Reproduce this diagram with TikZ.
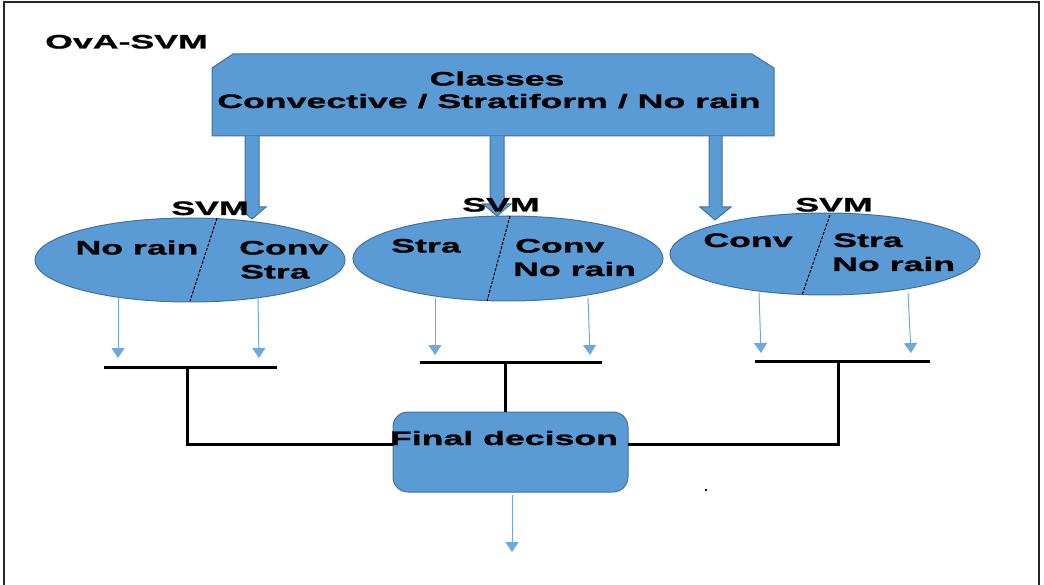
\documentclass[tikz,border=0pt]{standalone}
\usepackage{fontspec}
\setmainfont{Liberation Sans}[FakeStretch=1.83, BoldFeatures={FakeBold=1.2}]
\usetikzlibrary{arrows.meta,shapes.geometric}
\definecolor{boxblue}{HTML}{5B9BD5}
\definecolor{edgeblue}{HTML}{41719C}
\definecolor{thinblue}{HTML}{6FA8DC}
\tikzset{
  lab/.style={inner sep=0pt, text height=14pt, text depth=0pt, font=\fontsize{19.5}{22}\selectfont\bfseries},
  ell/.style={ellipse, draw=edgeblue, fill=boxblue, line width=1pt, inner sep=0pt},
  blockarrow/.style={draw=edgeblue, fill=boxblue, line width=1pt},
  outarrow/.style={draw=thinblue, line width=1pt, -{Triangle[width=13pt,length=10pt]}},
  bar/.style={draw=black, line width=3pt},
  divider/.style={draw=black, line width=1pt, dash pattern=on 3pt off 1.5pt},
}
\begin{document}
\begin{tikzpicture}[x=1pt,y=-1pt]
\useasboundingbox (0,0) rectangle (1044,585);
% frame
\draw[line width=2pt, black!85] (4,585) -- (4,2) -- (1039,2) -- (1039,585);
% title
\node[lab, anchor=west] (title) at (45,41.5) {OvA-SVM};
% classes box
\draw[blockarrow] (212,136) -- (212,68) -- (233,54) -- (752,54) -- (774,68) -- (774,136) -- cycle;
\node[lab] (cls1) at (497,78.5) {Classes};
\node[lab] (cls2) at (489,101) {Convective / Stratiform / No rain};
% ellipses
\node[ell, minimum width=310pt, minimum height=84pt] (e1) at (190,260) {};
\node[ell, minimum width=310pt, minimum height=85pt] (e2) at (508,258.5) {};
\node[ell, minimum width=310pt, minimum height=82pt] (e3) at (825,254) {};
% dividers
\draw[divider] (217,218) -- (190,301);
\draw[divider] (510,216) -- (487,301);
\draw[divider] (830,215) -- (802,295);
% block arrows
\draw[blockarrow] (245,136) -- (245,207) -- (238,207) -- (252,219) -- (266,207) -- (259,207) -- (259,136);
\draw[blockarrow] (490,136) -- (490,204) -- (483,204) -- (497,216) -- (511,204) -- (504,204) -- (504,136);
\draw[blockarrow] (709,136) -- (709,207) -- (700,207) -- (715,220) -- (731,207) -- (722,207) -- (722,136);
% SVM labels
\node[lab] (s1) at (210,208) {SVM};
\node[lab] (s2) at (501,204.5) {SVM};
\node[lab] (s3) at (834,204.5) {SVM};
% ellipse texts
\node[lab] (e1l) at (137,247.5) {No rain};
\node[lab, anchor=west] (e1r1) at (239,247.5) {Conv};
\node[lab, anchor=west] (e1r2) at (240,271.5) {Stra};
\node[lab] (e2l) at (426,245.5) {Stra};
\node[lab, anchor=west] (e2r1) at (515,245.5) {Conv};
\node[lab, anchor=west] (e2r2) at (513,269) {No rain};
\node[lab] (e3l) at (748,240) {Conv};
\node[lab, anchor=west] (e3r1) at (833,240) {Stra};
\node[lab, anchor=west] (e3r2) at (832,264) {No rain};
% output arrows from ellipses
\coordinate (a1s) at (118,298); \coordinate (a1e) at (118,358);
\coordinate (a2s) at (258,298); \coordinate (a2e) at (259,358);
\coordinate (a3s) at (435,298); \coordinate (a3e) at (435,355);
\coordinate (a4s) at (588,298); \coordinate (a4e) at (590,355);
\coordinate (a5s) at (759,293); \coordinate (a5e) at (761,353);
\coordinate (a6s) at (908,293); \coordinate (a6e) at (911,353);
\draw[outarrow] (a1s) -- (a1e);
\draw[outarrow] (a2s) -- (a2e);
\draw[outarrow] (a3s) -- (a3e);
\draw[outarrow] (a4s) -- (a4e);
\draw[outarrow] (a5s) -- (a5e);
\draw[outarrow] (a6s) -- (a6e);
% bars
\coordinate (b1l) at (104,367); \coordinate (b1r) at (277,367);
\coordinate (b2l) at (420,362); \coordinate (b2r) at (602,362);
\coordinate (b3l) at (755,361); \coordinate (b3r) at (930,361);
\draw[bar] (b1l) -- (b1r);
\draw[bar] (b2l) -- (b2r);
\draw[bar] (b3l) -- (b3r);
% final decision box
\draw[draw=edgeblue, fill=boxblue, line width=1pt, rounded corners=15pt] (393,412) rectangle (628,492);
\coordinate (fbW) at (393,444);
\coordinate (fbE) at (628,444);
\coordinate (fbN) at (505,412);
\coordinate (fbS) at (512,495);
\coordinate (b1m) at (187,367);
\coordinate (b2m) at (505,362);
\coordinate (b3m) at (838,361);
\draw[bar] (b1m) |- (fbW);
\draw[bar] (b2m) -- (fbN);
\draw[bar] (b3m) |- (fbE);
\node[lab] (final) at (504,438) {Final decison};
\coordinate (fout) at (512,552);
\draw[outarrow] (fbS) -- (fout);
% stray dot
\fill[black] (706,490) circle (1.3pt);
\end{tikzpicture}
\end{document}
